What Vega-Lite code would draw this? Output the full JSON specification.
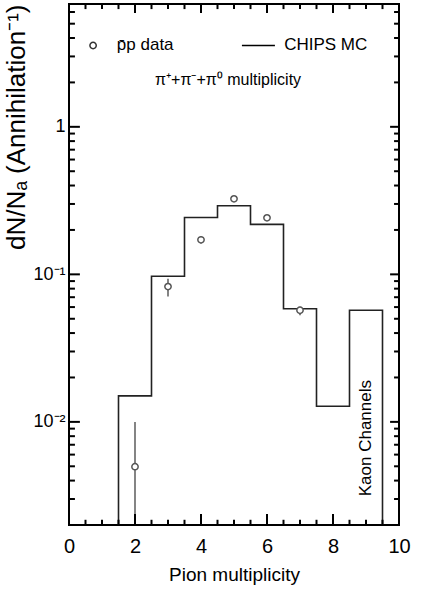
{
  "$schema": "https://vega.github.io/schema/vega-lite/v6.json",
  "autosize": {"type": "none"},
  "width": 330,
  "height": 521,
  "padding": {"left": 69, "top": 4, "right": 24, "bottom": 74},
  "background": "white",
  "config": {
    "font": "Liberation Sans",
    "view": {"stroke": "black", "strokeWidth": 2},
    "axis": {"domain": false, "grid": false, "ticks": false, "labelColor": "black", "titleColor": "black", "labelFont": "Liberation Sans", "titleFont": "Liberation Sans", "titleFontWeight": "normal"}
  },
  "datasets": {
    "mc": [
      {"i": 0, "x": 1.5, "y": 0.002},
      {"i": 1, "x": 1.5, "y": 0.015},
      {"i": 2, "x": 2.5, "y": 0.097},
      {"i": 3, "x": 3.5, "y": 0.243},
      {"i": 4, "x": 4.5, "y": 0.292},
      {"i": 5, "x": 5.5, "y": 0.218},
      {"i": 6, "x": 6.5, "y": 0.0584},
      {"i": 7, "x": 7.5, "y": 0.01277},
      {"i": 8, "x": 8.5, "y": 0.0571},
      {"i": 9, "x": 9.5, "y": 0.0571},
      {"i": 10, "x": 9.5, "y": 0.002}
    ],
    "data": [
      {"x": 2, "y": 0.00497, "lo": 0.001, "hi": 0.0100},
      {"x": 3, "y": 0.0826, "lo": 0.0709, "hi": 0.0933},
      {"x": 4, "y": 0.1715, "lo": 0.162, "hi": 0.181},
      {"x": 5, "y": 0.325, "lo": 0.325, "hi": 0.325},
      {"x": 6, "y": 0.2415, "lo": 0.2415, "hi": 0.2415},
      {"x": 7, "y": 0.0571, "lo": 0.0528, "hi": 0.0603}
    ],
    "xticks": [
      {"x": 2, "a": 0.002, "b": 0.00237}, {"x": 4, "a": 0.002, "b": 0.00237}, {"x": 6, "a": 0.002, "b": 0.00237}, {"x": 8, "a": 0.002, "b": 0.00237},
      {"x": 2, "a": 6.8, "b": 5.91}, {"x": 4, "a": 6.8, "b": 5.91}, {"x": 6, "a": 6.8, "b": 5.91}, {"x": 8, "a": 6.8, "b": 5.91},
      {"x": 0.5, "a": 0.002, "b": 0.00217}, {"x": 1, "a": 0.002, "b": 0.00217}, {"x": 1.5, "a": 0.002, "b": 0.00217}, {"x": 2.5, "a": 0.002, "b": 0.00217}, {"x": 3, "a": 0.002, "b": 0.00217}, {"x": 3.5, "a": 0.002, "b": 0.00217}, {"x": 4.5, "a": 0.002, "b": 0.00217}, {"x": 5, "a": 0.002, "b": 0.00217}, {"x": 5.5, "a": 0.002, "b": 0.00217}, {"x": 6.5, "a": 0.002, "b": 0.00217}, {"x": 7, "a": 0.002, "b": 0.00217}, {"x": 7.5, "a": 0.002, "b": 0.00217}, {"x": 8.5, "a": 0.002, "b": 0.00217}, {"x": 9, "a": 0.002, "b": 0.00217}, {"x": 9.5, "a": 0.002, "b": 0.00217},
      {"x": 0.5, "a": 6.8, "b": 6.28}, {"x": 1, "a": 6.8, "b": 6.28}, {"x": 1.5, "a": 6.8, "b": 6.28}, {"x": 2.5, "a": 6.8, "b": 6.28}, {"x": 3, "a": 6.8, "b": 6.28}, {"x": 3.5, "a": 6.8, "b": 6.28}, {"x": 4.5, "a": 6.8, "b": 6.28}, {"x": 5, "a": 6.8, "b": 6.28}, {"x": 5.5, "a": 6.8, "b": 6.28}, {"x": 6.5, "a": 6.8, "b": 6.28}, {"x": 7, "a": 6.8, "b": 6.28}, {"x": 7.5, "a": 6.8, "b": 6.28}, {"x": 8.5, "a": 6.8, "b": 6.28}, {"x": 9, "a": 6.8, "b": 6.28}, {"x": 9.5, "a": 6.8, "b": 6.28}
    ],
    "yticks": [
      {"y": 0.01, "a": 0, "b": 0.33}, {"y": 0.1, "a": 0, "b": 0.33}, {"y": 1, "a": 0, "b": 0.33},
      {"y": 0.01, "a": 10, "b": 9.73}, {"y": 0.1, "a": 10, "b": 9.73}, {"y": 1, "a": 10, "b": 9.73},
      {"y": 0.003, "a": 0, "b": 0.18}, {"y": 0.004, "a": 0, "b": 0.18}, {"y": 0.005, "a": 0, "b": 0.18}, {"y": 0.006, "a": 0, "b": 0.18}, {"y": 0.007, "a": 0, "b": 0.18}, {"y": 0.008, "a": 0, "b": 0.18}, {"y": 0.009, "a": 0, "b": 0.18},
      {"y": 0.02, "a": 0, "b": 0.18}, {"y": 0.03, "a": 0, "b": 0.18}, {"y": 0.04, "a": 0, "b": 0.18}, {"y": 0.05, "a": 0, "b": 0.18}, {"y": 0.06, "a": 0, "b": 0.18}, {"y": 0.07, "a": 0, "b": 0.18}, {"y": 0.08, "a": 0, "b": 0.18}, {"y": 0.09, "a": 0, "b": 0.18},
      {"y": 0.2, "a": 0, "b": 0.18}, {"y": 0.3, "a": 0, "b": 0.18}, {"y": 0.4, "a": 0, "b": 0.18}, {"y": 0.5, "a": 0, "b": 0.18}, {"y": 0.6, "a": 0, "b": 0.18}, {"y": 0.7, "a": 0, "b": 0.18}, {"y": 0.8, "a": 0, "b": 0.18}, {"y": 0.9, "a": 0, "b": 0.18},
      {"y": 2, "a": 0, "b": 0.18}, {"y": 3, "a": 0, "b": 0.18}, {"y": 4, "a": 0, "b": 0.18}, {"y": 5, "a": 0, "b": 0.18}, {"y": 6, "a": 0, "b": 0.18},
      {"y": 0.003, "a": 10, "b": 9.85}, {"y": 0.004, "a": 10, "b": 9.85}, {"y": 0.005, "a": 10, "b": 9.85}, {"y": 0.006, "a": 10, "b": 9.85}, {"y": 0.007, "a": 10, "b": 9.85}, {"y": 0.008, "a": 10, "b": 9.85}, {"y": 0.009, "a": 10, "b": 9.85},
      {"y": 0.02, "a": 10, "b": 9.85}, {"y": 0.03, "a": 10, "b": 9.85}, {"y": 0.04, "a": 10, "b": 9.85}, {"y": 0.05, "a": 10, "b": 9.85}, {"y": 0.06, "a": 10, "b": 9.85}, {"y": 0.07, "a": 10, "b": 9.85}, {"y": 0.08, "a": 10, "b": 9.85}, {"y": 0.09, "a": 10, "b": 9.85},
      {"y": 0.2, "a": 10, "b": 9.85}, {"y": 0.3, "a": 10, "b": 9.85}, {"y": 0.4, "a": 10, "b": 9.85}, {"y": 0.5, "a": 10, "b": 9.85}, {"y": 0.6, "a": 10, "b": 9.85}, {"y": 0.7, "a": 10, "b": 9.85}, {"y": 0.8, "a": 10, "b": 9.85}, {"y": 0.9, "a": 10, "b": 9.85},
      {"y": 2, "a": 10, "b": 9.85}, {"y": 3, "a": 10, "b": 9.85}, {"y": 4, "a": 10, "b": 9.85}, {"y": 5, "a": 10, "b": 9.85}, {"y": 6, "a": 10, "b": 9.85}
    ],
    "legpt": [{"x": 0.73, "y": 3.56}],
    "legline": [{"x": 5.24, "x2": 6.24, "y": 3.56}],
    "leftlabels": [
      {"x": 1.45, "y": 3.56, "t": "p\u0304p data"},
      {"x": 6.52, "y": 3.56, "t": "CHIPS MC"}
    ],
    "sub": [{"x": 4.82, "y": 2.07, "t": "\u03c0\u207a+\u03c0\u207b+\u03c0\u2070 multiplicity"}],
    "kaon": [{"x": 9.0, "y": 0.00776, "t": "Kaon Channels"}]
  },
  "layer": [
    {
      "data": {"name": "mc"},
      "mark": {"type": "line", "interpolate": "step-after", "color": "#222222", "strokeWidth": 1.6, "clip": true},
      "encoding": {
        "x": {"field": "x", "type": "quantitative", "scale": {"domain": [0, 10], "nice": false, "zero": false},
              "axis": {"orient": "bottom", "values": [0, 2, 4, 6, 8, 10], "labelPadding": 11, "labelFontSize": 20, "title": "Pion multiplicity", "titleFontSize": 19, "titlePadding": 9, "labelFlush": false}},
        "y": {"field": "y", "type": "quantitative", "scale": {"type": "log", "domain": [0.002, 6.8], "nice": false},
              "axis": {"orient": "left", "values": [0.01, 0.1, 1], "labelPadding": 4, "labelFontSize": 18,
                       "labelExpr": "datum.value == 1 ? '1' : (datum.value == 0.1 ? '10\u207b\u00b9' : '10\u207b\u00b2')",
                       "title": "dN/N\u2090 (Annihilation\u207b\u00b9)", "titleFontSize": 26, "titleAnchor": "end", "titlePadding": 3}},
        "order": {"field": "i", "type": "quantitative"}
      }
    },
    {
      "data": {"name": "data"},
      "mark": {"type": "rule", "color": "#666666", "strokeWidth": 1.6, "clip": true},
      "encoding": {
        "x": {"field": "x", "type": "quantitative"},
        "y": {"field": "lo", "type": "quantitative"},
        "y2": {"field": "hi"}
      }
    },
    {
      "data": {"name": "data"},
      "mark": {"type": "point", "shape": "circle", "filled": true, "fill": "white", "stroke": "#555555", "strokeWidth": 1.5, "size": 40, "opacity": 1},
      "encoding": {
        "x": {"field": "x", "type": "quantitative"},
        "y": {"field": "y", "type": "quantitative"}
      }
    },
    {
      "data": {"name": "legpt"},
      "mark": {"type": "point", "shape": "circle", "filled": true, "fill": "white", "stroke": "#333333", "strokeWidth": 1.5, "size": 40, "opacity": 1},
      "encoding": {
        "x": {"field": "x", "type": "quantitative"},
        "y": {"field": "y", "type": "quantitative"}
      }
    },
    {
      "data": {"name": "legline"},
      "mark": {"type": "rule", "color": "black", "strokeWidth": 1.6},
      "encoding": {
        "x": {"field": "x", "type": "quantitative"},
        "x2": {"field": "x2"},
        "y": {"field": "y", "type": "quantitative"}
      }
    },
    {
      "data": {"name": "leftlabels"},
      "mark": {"type": "text", "baseline": "middle", "align": "left", "fontSize": 17, "color": "black"},
      "encoding": {
        "x": {"field": "x", "type": "quantitative"},
        "y": {"field": "y", "type": "quantitative"},
        "text": {"field": "t"}
      }
    },
    {
      "data": {"name": "sub"},
      "mark": {"type": "text", "baseline": "middle", "align": "center", "fontSize": 16, "color": "black"},
      "encoding": {
        "x": {"field": "x", "type": "quantitative"},
        "y": {"field": "y", "type": "quantitative"},
        "text": {"field": "t"}
      }
    },
    {
      "data": {"name": "kaon"},
      "mark": {"type": "text", "baseline": "middle", "align": "center", "angle": 270, "fontSize": 17, "color": "black"},
      "encoding": {
        "x": {"field": "x", "type": "quantitative"},
        "y": {"field": "y", "type": "quantitative"},
        "text": {"field": "t"}
      }
    },
    {
      "data": {"name": "xticks"},
      "mark": {"type": "rule", "color": "#000000", "strokeWidth": 2},
      "encoding": {
        "x": {"field": "x", "type": "quantitative"},
        "y": {"field": "a", "type": "quantitative"},
        "y2": {"field": "b"}
      }
    },
    {
      "data": {"name": "yticks"},
      "mark": {"type": "rule", "color": "#000000", "strokeWidth": 2},
      "encoding": {
        "y": {"field": "y", "type": "quantitative"},
        "x": {"field": "a", "type": "quantitative"},
        "x2": {"field": "b"}
      }
    }
  ]
}
